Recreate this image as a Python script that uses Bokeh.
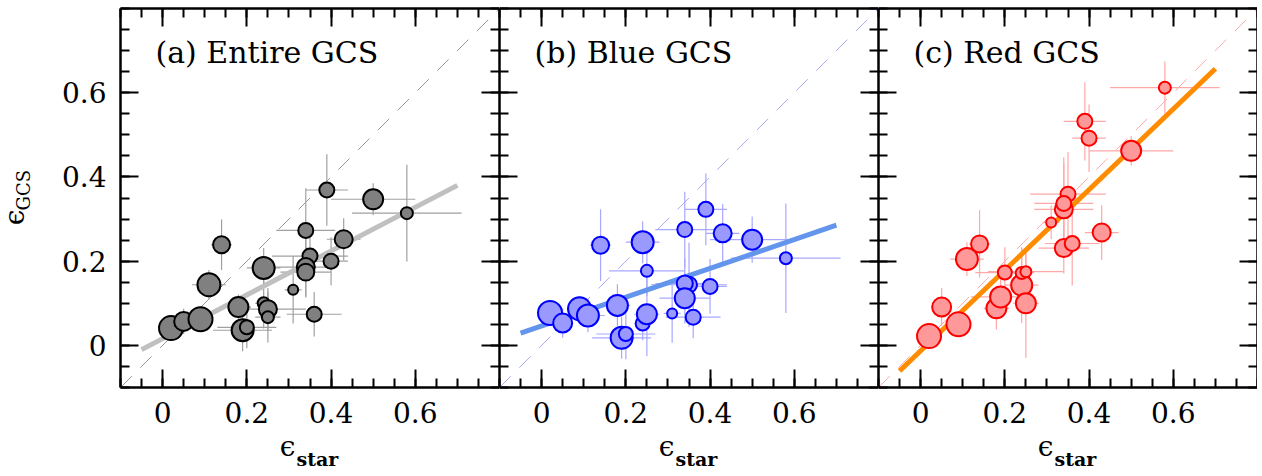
import numpy as np
from bokeh.plotting import figure
from bokeh.layouts import row, column
from bokeh.models import FixedTicker, LinearAxis, Label, Range1d
from bokeh.embed import file_html
from bokeh.resources import INLINE

# ---- data ----
eps_star = [0.02, 0.05, 0.09, 0.11, 0.14, 0.18, 0.19, 0.20, 0.24, 0.24, 0.25, 0.25,
            0.31, 0.34, 0.35, 0.34, 0.34, 0.36, 0.39, 0.40, 0.43, 0.50, 0.58]
err_star = [0.03, 0.02, 0.02, 0.04, 0.025, 0.03, 0.07, 0.07, 0.04, 0.02, 0.09, 0.03,
            0.02, 0.07, 0.09, 0.07, 0.06, 0.065, 0.05, 0.04, 0.04, 0.10, 0.13]

gcs_all = [0.041, 0.057, 0.062, 0.144, 0.239, 0.091, 0.036, 0.043, 0.184, 0.100, 0.086, 0.067,
           0.132, 0.273, 0.212, 0.186, 0.174, 0.074, 0.369, 0.200, 0.252, 0.347, 0.314]
err_all = [0.02, 0.03, 0.02, 0.035, 0.06, 0.03, 0.05, 0.05, 0.047, 0.06, 0.05, 0.06,
           0.08, 0.10, 0.05, 0.07, 0.06, 0.053, 0.085, 0.057, 0.05, 0.038, 0.115]
msize_all = [24, 19, 24, 23, 17, 20, 22, 14, 22, 12, 18, 12, 10, 15, 15, 18, 17, 15, 15, 15, 18, 20, 12]

gcs_blue = [0.077, 0.053, 0.087, 0.071, 0.238, 0.095, 0.018, 0.027, 0.245, 0.052, 0.177, 0.074,
            0.076, 0.275, 0.144, 0.147, 0.112, 0.067, 0.323, 0.140, 0.266, 0.251, 0.207]
err_blue = [0.03, 0.035, 0.03, 0.04, 0.085, 0.05, 0.05, 0.06, 0.05, 0.04, 0.06, 0.10,
            0.07, 0.09, 0.10, 0.06, 0.06, 0.05, 0.085, 0.065, 0.07, 0.055, 0.13]
msize_blue = [24, 19, 23, 22, 17, 21, 22, 14, 22, 14, 12, 20, 10, 15, 16, 16, 20, 15, 15, 15, 18, 20, 12]

gcs_red = [0.022, 0.091, 0.050, 0.205, 0.241, 0.088, 0.115, 0.173, 0.143, 0.172, 0.175, 0.100,
           0.292, 0.323, 0.359, 0.337, 0.231, 0.242, 0.532, 0.492, 0.268, 0.462, 0.612]
err_red = [0.03, 0.045, 0.03, 0.04, 0.08, 0.05, 0.05, 0.06, 0.09, 0.06, 0.05, 0.13,
           0.04, 0.11, 0.10, 0.11, 0.06, 0.10, 0.093, 0.08, 0.065, 0.035, 0.062]
msize_red = [24, 19, 24, 22, 17, 20, 21, 14, 21, 12, 11, 20, 10, 18, 15, 15, 18, 15, 15, 15, 18, 20, 12]

# linear fits (slope, intercept) and the x span over which they are drawn
fit_all = (0.52, 0.016)
fit_blue = (0.342, 0.046)
fit_red = (0.957, -0.013)
fit_span = [-0.05, 0.70]

titles = ["(a) Entire GCS", "(b) Blue GCS", "(c) Red GCS"]
x_label = ("\u03f5", "star")
y_label = ("\u03f5", "GCS")
major_ticks = [0, 0.2, 0.4, 0.6]
minor_ticks = [-0.1, -0.05, 0, 0.05, 0.1, 0.15, 0.2, 0.25, 0.3, 0.35, 0.4, 0.45,
               0.5, 0.55, 0.6, 0.65, 0.7, 0.75, 0.8]
tick_text = {0: "0", 0.2: "0.2", 0.4: "0.4", 0.6: "0.6"}
no_text = {0: "", 0.2: "", 0.4: "", 0.6: ""}

SERIF = "DejaVu Serif"
FRAME = 379
TOP = 8
BOTTOM = 48
LEFT_A = 64
YLAB_W = 56
XLAB_H = 40


def style_axis(ax, labels):
    ax.ticker = FixedTicker(ticks=major_ticks, minor_ticks=minor_ticks)
    ax.major_tick_in = 18
    ax.major_tick_out = 0
    ax.minor_tick_in = 9
    ax.minor_tick_out = 0
    ax.major_tick_line_width = 2
    ax.minor_tick_line_width = 2
    ax.major_tick_line_color = "black"
    ax.minor_tick_line_color = "black"
    ax.axis_line_width = 2.5
    ax.axis_line_color = "black"
    ax.axis_label = None
    if labels:
        ax.major_label_text_font = SERIF
        ax.major_label_text_font_size = "28px"
        ax.major_label_text_color = "black"
        ax.major_label_standoff = 14
        ax.major_label_overrides = tick_text
    else:
        ax.major_label_text_font_size = "0px"
        ax.major_label_standoff = 0
        ax.major_label_overrides = no_text


def blank_fig(w, h):
    f = figure(width=w, height=h, x_range=Range1d(0, 1), y_range=Range1d(0, 1),
               x_axis_type=None, y_axis_type=None, output_backend="svg",
               toolbar_location=None, min_border=0, outline_line_color=None,
               background_fill_color="white", border_fill_color="white")
    f.grid.visible = False
    return f


def make_panel(y, yerr, msize, fit, title, fill, edge, errc, diagc, fitc, first):
    p = figure(frame_width=FRAME, frame_height=FRAME,
               x_range=Range1d(-0.1, 0.8), y_range=Range1d(-0.1, 0.8),
               output_backend="svg", toolbar_location=None,
               min_border_left=LEFT_A if first else 0, min_border_right=0,
               min_border_top=TOP, min_border_bottom=BOTTOM,
               outline_line_color=None, background_fill_color="white",
               border_fill_color="white")
    p.grid.visible = False

    style_axis(p.xaxis[0], True)
    style_axis(p.yaxis[0], first)
    top = LinearAxis()
    style_axis(top, False)
    p.add_layout(top, "above")
    right = LinearAxis()
    style_axis(right, False)
    p.add_layout(right, "right")

    x = np.array(eps_star)
    xe = np.array(err_star)
    yy = np.array(y)
    ye = np.array(yerr)

    # one-to-one line
    p.line([-0.1, 0.8], [-0.1, 0.8], line_color=diagc, line_width=1, line_dash="16 12")
    # error bars
    p.segment(x - xe, yy, x + xe, yy, line_color=errc, line_width=1.2)
    p.segment(x, yy - ye, x, yy + ye, line_color=errc, line_width=1.2)
    # fit
    fx = np.array(fit_span)
    p.line(fx, fit[0] * fx + fit[1], line_color=fitc, line_width=5)
    # points
    p.scatter(x, yy, size=msize, marker="circle", fill_color=fill,
              line_color=edge, line_width=2)

    p.add_layout(Label(x=35, y=335, x_units="screen", y_units="screen", text=title,
                       text_font=SERIF, text_font_size="30px", text_color="black",
                       text_baseline="alphabetic"))

    # x axis label in a strip below the panel (its frame lines up with the panel frame)
    off = LEFT_A if first else 0
    lab = blank_fig(off + FRAME, XLAB_H)
    lab.add_layout(Label(x=167, y=29, x_units="screen", y_units="screen",
                         text=x_label[0], text_font=SERIF, text_font_size="28px",
                         text_align="center", text_baseline="alphabetic",
                         text_color="black"))
    lab.add_layout(Label(x=176, y=17, x_units="screen", y_units="screen",
                         text=x_label[1], text_font=SERIF, text_font_size="19px",
                         text_font_style="bold", text_baseline="alphabetic",
                         text_color="black"))
    return column(p, lab, spacing=0)


ylab_h = 400
ylab = blank_fig(YLAB_W, ylab_h)
ylab.add_layout(Label(x=14, y=ylab_h - 217, x_units="screen", y_units="screen",
                      text=y_label[0], angle=np.pi / 2, text_font=SERIF,
                      text_font_size="28px", text_align="center",
                      text_baseline="alphabetic", text_color="black"))
ylab.add_layout(Label(x=23, y=ylab_h - 210, x_units="screen", y_units="screen",
                      text=y_label[1], angle=np.pi / 2, text_font=SERIF,
                      text_font_size="18px", text_align="left",
                      text_baseline="alphabetic", text_color="black"))

pa = make_panel(gcs_all, err_all, msize_all, fit_all, titles[0],
                "#808080", "black", "#a0a0a0", "#999999", "#c0c0c0", True)
pb = make_panel(gcs_blue, err_blue, msize_blue, fit_blue, titles[1],
                "#9999ff", "#0000ff", "#a8a8ff", "#aaaaff", "#6495ed", False)
pc = make_panel(gcs_red, err_red, msize_red, fit_red, titles[2],
                "#ff9999", "#ff0000", "#ffa8a8", "#ffaaaa", "#ff8c00", False)

layout = row(ylab, pa, pb, pc, spacing=0)
open("out.html", "w").write(file_html(layout, INLINE))
